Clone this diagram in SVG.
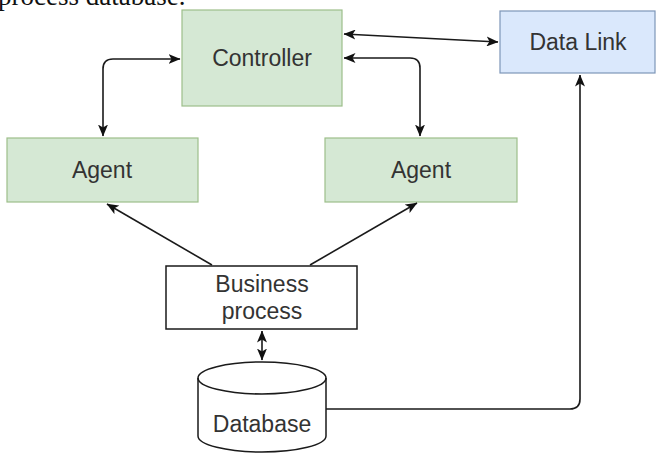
<svg xmlns="http://www.w3.org/2000/svg" width="657" height="453" viewBox="0 0 657 453">
<defs>
<style>
.green{fill:#d5e8d4;stroke:#9dbf8a;stroke-width:1.2}
.blue{fill:#dae8fc;stroke:#7d96b8;stroke-width:1.2}
.plain{fill:#ffffff;stroke:#1a1a1a;stroke-width:1.5}
.lbl{font-family:"Liberation Sans",Arial,sans-serif;font-size:23px;fill:#333333;text-anchor:middle}
.cap{font-family:"Liberation Serif","Times New Roman",serif;font-size:27px;fill:#111}
.conn{fill:none;stroke:#1a1a1a;stroke-width:1.6}
</style>
<marker id="arr" viewBox="0 0 12 10" refX="11.5" refY="5" markerWidth="12" markerHeight="10" markerUnits="userSpaceOnUse" orient="auto-start-reverse">
<path d="M0,0 L12,5 L0,10 L3,5 Z" fill="#111"/>
</marker>
</defs>
<rect width="657" height="453" fill="#ffffff"/>
<text class="cap" x="-2" y="5">process database.</text>
<g id="controller">
<rect class="green" x="182" y="10" width="160" height="96"/>
<text class="lbl" x="262" y="66">Controller</text>
</g>
<g id="datalink">
<rect class="blue" x="500" y="11" width="155" height="62"/>
<text class="lbl" x="578" y="50">Data Link</text>
</g>
<g id="agent-left">
<rect class="green" x="7" y="138" width="191" height="64"/>
<text class="lbl" x="102" y="178">Agent</text>
</g>
<g id="agent-right">
<rect class="green" x="325" y="138" width="192" height="64"/>
<text class="lbl" x="421" y="178">Agent</text>
</g>
<g id="business">
<rect class="plain" x="166" y="266" width="191" height="63"/>
<text class="lbl" x="262" y="292">Business</text>
<text class="lbl" x="262" y="319">process</text>
</g>
<g id="database">
<path class="plain" d="M198,378 A64,16 0 0 1 326,378 V436 A64,16 0 0 1 198,436 Z"/>
<path class="conn" d="M198,378 A64,16 0 0 0 326,378"/>
<text class="lbl" x="262" y="432">Database</text>
</g>
<g id="connectors">
<path class="conn" d="M103,136 V69 Q103,59 113,59 H180" marker-start="url(#arr)" marker-end="url(#arr)"/>
<path class="conn" d="M420,136 V68 Q420,58 410,58 H344" marker-start="url(#arr)" marker-end="url(#arr)"/>
<path class="conn" d="M344,34 L498,42" marker-start="url(#arr)" marker-end="url(#arr)"/>
<path class="conn" d="M212,265 L107,204" marker-end="url(#arr)"/>
<path class="conn" d="M310,265 L417,203" marker-end="url(#arr)"/>
<path class="conn" d="M262,331 V360" marker-start="url(#arr)" marker-end="url(#arr)"/>
<path class="conn" d="M326,409 H570 Q580,409 580,399 V75" marker-end="url(#arr)"/>
</g>
</svg>
